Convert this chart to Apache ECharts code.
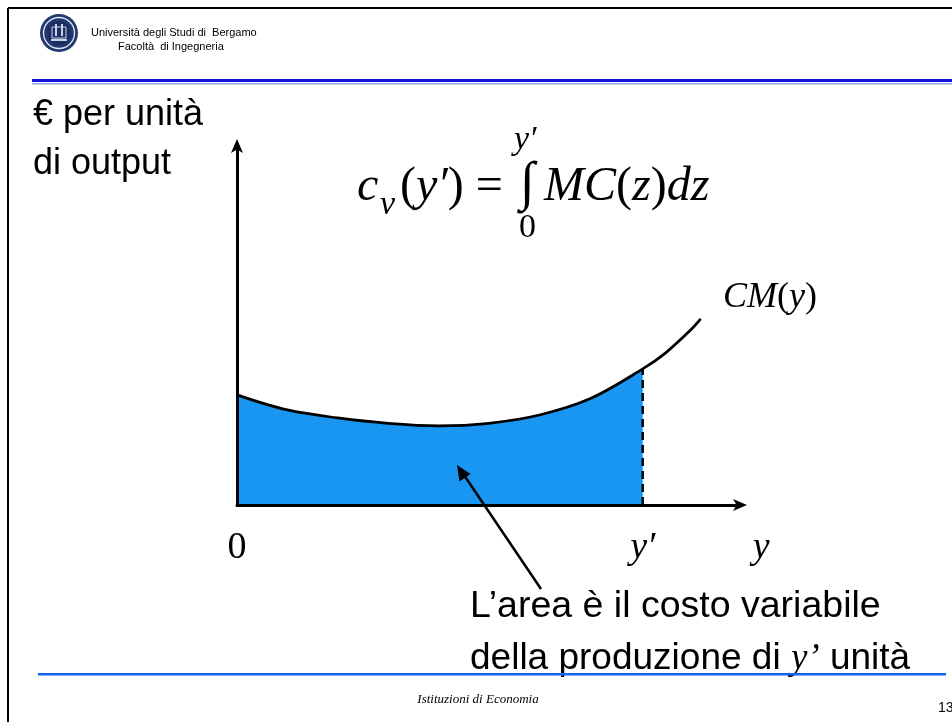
<!DOCTYPE html>
<html>
<head>
<meta charset="utf-8">
<script src="https://cdn.jsdelivr.net/npm/echarts@6/dist/echarts.min.js"></script>
<style>
  html, body { margin: 0; padding: 0; background: #ffffff; }
  #chart { width: 952px; height: 722px; }
</style>
</head>
<body>
<div id="chart"></div>
<script>
// Output quantity y and the cost curve CM(y) read along it
const outputQty    = [0,    1,    2,    3,    4,   5,    6,   7,    8.05, 8.5,  9,    9.2];
const marginalCost = [3.06, 2.64, 2.42, 2.27, 2.2, 2.27, 2.5, 2.95, 3.78, 4.22, 4.86, 5.17];
// Chosen output level y'
const yPrime = 8.05;
// Labels under the horizontal axis and the output values they sit at
const xTickLabels = ['0', 'y′', 'y'];
const xTickValues = [0, yPrime, 10.4];

const SERIF = "'Liberation Serif', 'Times New Roman', serif";
const SANS = "'Liberation Sans', Arial, sans-serif";
const FILL_BLUE = '#1996f2';

const curveData = outputQty.map((x, i) => [x, marginalCost[i]]);
const areaData = curveData.filter(p => p[0] <= yPrime);
const costAtYPrime = marginalCost[outputQty.indexOf(yPrime)];

const chart = echarts.init(document.getElementById('chart'), null, { renderer: 'canvas' });

const axisCommon = {
  type: 'value',
  min: 0,
  max: 10,
  z: 5,
  axisLine: {
    show: true,
    onZero: false,
    symbol: ['none', 'arrow'],
    symbolSize: [9, 14],
    symbolOffset: [0, 6],
    lineStyle: { color: '#000', width: 3 }
  },
  axisTick: { show: false },
  axisLabel: { show: false },
  splitLine: { show: false }
};

const option = {
  animation: false,
  backgroundColor: '#ffffff',
  grid: { left: 237, right: 211, top: 145, bottom: 217, containLabel: false },
  xAxis: axisCommon,
  yAxis: axisCommon,
  series: [
    {
      // variable cost: area under CM(y) from 0 to y'
      type: 'line',
      data: areaData,
      smooth: 0.35,
      symbol: 'none',
      z: 1,
      lineStyle: { width: 0 },
      areaStyle: { color: FILL_BLUE, opacity: 1 }
    },
    {
      // dashed drop line at y'
      type: 'line',
      data: [[yPrime, 0], [yPrime, costAtYPrime]],
      symbol: 'none',
      z: 2,
      lineStyle: { color: '#000', width: 2.5, type: [8, 5] }
    },
    {
      // CM(y) curve
      type: 'line',
      data: curveData,
      smooth: 0.35,
      symbol: 'none',
      z: 3,
      lineStyle: { color: '#000', width: 2.75 }
    }
  ]
};

chart.setOption(option);

// Page frame, header, footer and the annotations around the plot
const gridBottomY = chart.convertToPixel({ gridIndex: 0 }, [0, 0])[1];
const tickTexts = xTickValues.map((v, i) => {
  const px = chart.convertToPixel({ xAxisIndex: 0 }, v);
  const italic = i > 0;
  return {
    type: 'text',
    x: px,
    y: gridBottomY + 43,
    z: 100,
    style: {
      text: xTickLabels[i],
      font: (italic ? 'italic ' : '') + '38px ' + SERIF,
      fill: '#000',
      align: 'center',
      verticalAlign: 'middle'
    }
  };
});

const graphics = [
  // slide frame
  { type: 'line', shape: { x1: 8, y1: 8, x2: 8, y2: 722 }, style: { stroke: '#000', lineWidth: 2 } },
  { type: 'line', shape: { x1: 8, y1: 8, x2: 952, y2: 8 }, style: { stroke: '#000', lineWidth: 2 } },
  // university seal
  { type: 'circle', shape: { cx: 59, cy: 33, r: 19 }, style: { fill: '#22366f' } },
  { type: 'circle', shape: { cx: 59, cy: 33, r: 15.5 }, style: { fill: 'none', stroke: '#dfe6f2', lineWidth: 1.3 } },
  { type: 'circle', shape: { cx: 59, cy: 33, r: 12 }, style: { fill: '#1b2d62' } },
  { type: 'rect', shape: { x: 52, y: 27, width: 14, height: 11 }, style: { fill: 'none', stroke: '#c9d3e6', lineWidth: 1 } },
  { type: 'rect', shape: { x: 55, y: 24, width: 2, height: 12 }, style: { fill: '#c9d3e6' } },
  { type: 'rect', shape: { x: 61, y: 24, width: 2, height: 12 }, style: { fill: '#c9d3e6' } },
  { type: 'rect', shape: { x: 51, y: 39, width: 16, height: 2 }, style: { fill: '#c9d3e6' } },
  // header text
  { type: 'text', x: 91, y: 33, style: { text: 'Università degli Studi di  Bergamo', font: '11px ' + SANS, fill: '#000', verticalAlign: 'middle' } },
  { type: 'text', x: 118, y: 47, style: { text: 'Facoltà  di Ingegneria', font: '11px ' + SANS, fill: '#000', verticalAlign: 'middle' } },
  // header rules
  { type: 'rect', shape: { x: 32, y: 79, width: 920, height: 3 }, style: { fill: '#1414d8' } },
  { type: 'rect', shape: { x: 32, y: 83, width: 920, height: 1.5 }, style: { fill: '#8fa6e8' } },
  // vertical axis title
  { type: 'text', x: 33, y: 115, style: { text: '€ per unità', font: '36px ' + SANS, fill: '#000', verticalAlign: 'middle' } },
  { type: 'text', x: 33, y: 164, style: { text: 'di output', font: '36px ' + SANS, fill: '#000', verticalAlign: 'middle' } },
  // formula c_v(y') = integral from 0 to y' of MC(z)dz
  { type: 'text', x: 357, y: 187, style: { text: 'c', font: 'italic 48px ' + SERIF, fill: '#000', verticalAlign: 'middle' } },
  { type: 'text', x: 380, y: 205, style: { text: 'v', font: 'italic 34px ' + SERIF, fill: '#000', verticalAlign: 'middle' } },
  {
    type: 'text', x: 400, y: 187,
    style: {
      text: '{u|(}{i|y′}{u|) =}',
      verticalAlign: 'middle',
      rich: {
        u: { font: '48px ' + SERIF, fill: '#000' },
        i: { font: 'italic 48px ' + SERIF, fill: '#000' }
      }
    }
  },
  { type: 'text', x: 520, y: 185, style: { text: '∫', font: '54px ' + SERIF, fill: '#000', verticalAlign: 'middle' } },
  {
    type: 'text', x: 544, y: 187,
    style: {
      text: '{i|MC}{u|(}{i|z}{u|)}{i|dz}',
      verticalAlign: 'middle',
      rich: {
        u: { font: '48px ' + SERIF, fill: '#000' },
        i: { font: 'italic 48px ' + SERIF, fill: '#000' }
      }
    }
  },
  { type: 'text', x: 514, y: 140, style: { text: 'y′', font: 'italic 34px ' + SERIF, fill: '#000', verticalAlign: 'middle' } },
  { type: 'text', x: 519, y: 228, style: { text: '0', font: '34px ' + SERIF, fill: '#000', verticalAlign: 'middle' } },
  // curve name
  {
    type: 'text', x: 723, y: 298,
    style: {
      text: '{i|CM}{u|(}{i|y}{u|)}',
      verticalAlign: 'middle',
      rich: {
        u: { font: '36px ' + SERIF, fill: '#000' },
        i: { font: 'italic 36px ' + SERIF, fill: '#000' }
      }
    }
  },
  // pointer to the shaded area
  { type: 'line', z: 100, shape: { x1: 541, y1: 589, x2: 464, y2: 475 }, style: { stroke: '#000', lineWidth: 2.5 } },
  {
    type: 'polygon', z: 100,
    shape: { points: [[457, 465], [459.5, 481.5], [470.5, 474]] },
    style: { fill: '#000' }
  },
  // explanation
  { type: 'text', x: 470, y: 607, style: { text: 'L’area è il costo variabile', font: '37.5px ' + SANS, fill: '#000', verticalAlign: 'middle' } },
  {
    type: 'text', x: 470, y: 659,
    style: {
      text: '{s|della produzione di }{i|y’}{s| unità}',
      verticalAlign: 'middle',
      rich: {
        s: { font: '37px ' + SANS, fill: '#000' },
        i: { font: 'italic 37px ' + SERIF, fill: '#000' }
      }
    }
  },
  // footer
  { type: 'rect', shape: { x: 38, y: 673, width: 908, height: 2.5 }, style: { fill: '#1565f0' } },
  { type: 'text', x: 478, y: 700, style: { text: 'Istituzioni di Economia', font: 'italic 13px ' + SERIF, fill: '#000', align: 'center', verticalAlign: 'middle' } },
  { type: 'text', x: 938, y: 708, style: { text: '13', font: '14px ' + SANS, fill: '#000', verticalAlign: 'middle' } }
].concat(tickTexts);

chart.setOption({ graphic: graphics });
</script>
</body>
</html>
